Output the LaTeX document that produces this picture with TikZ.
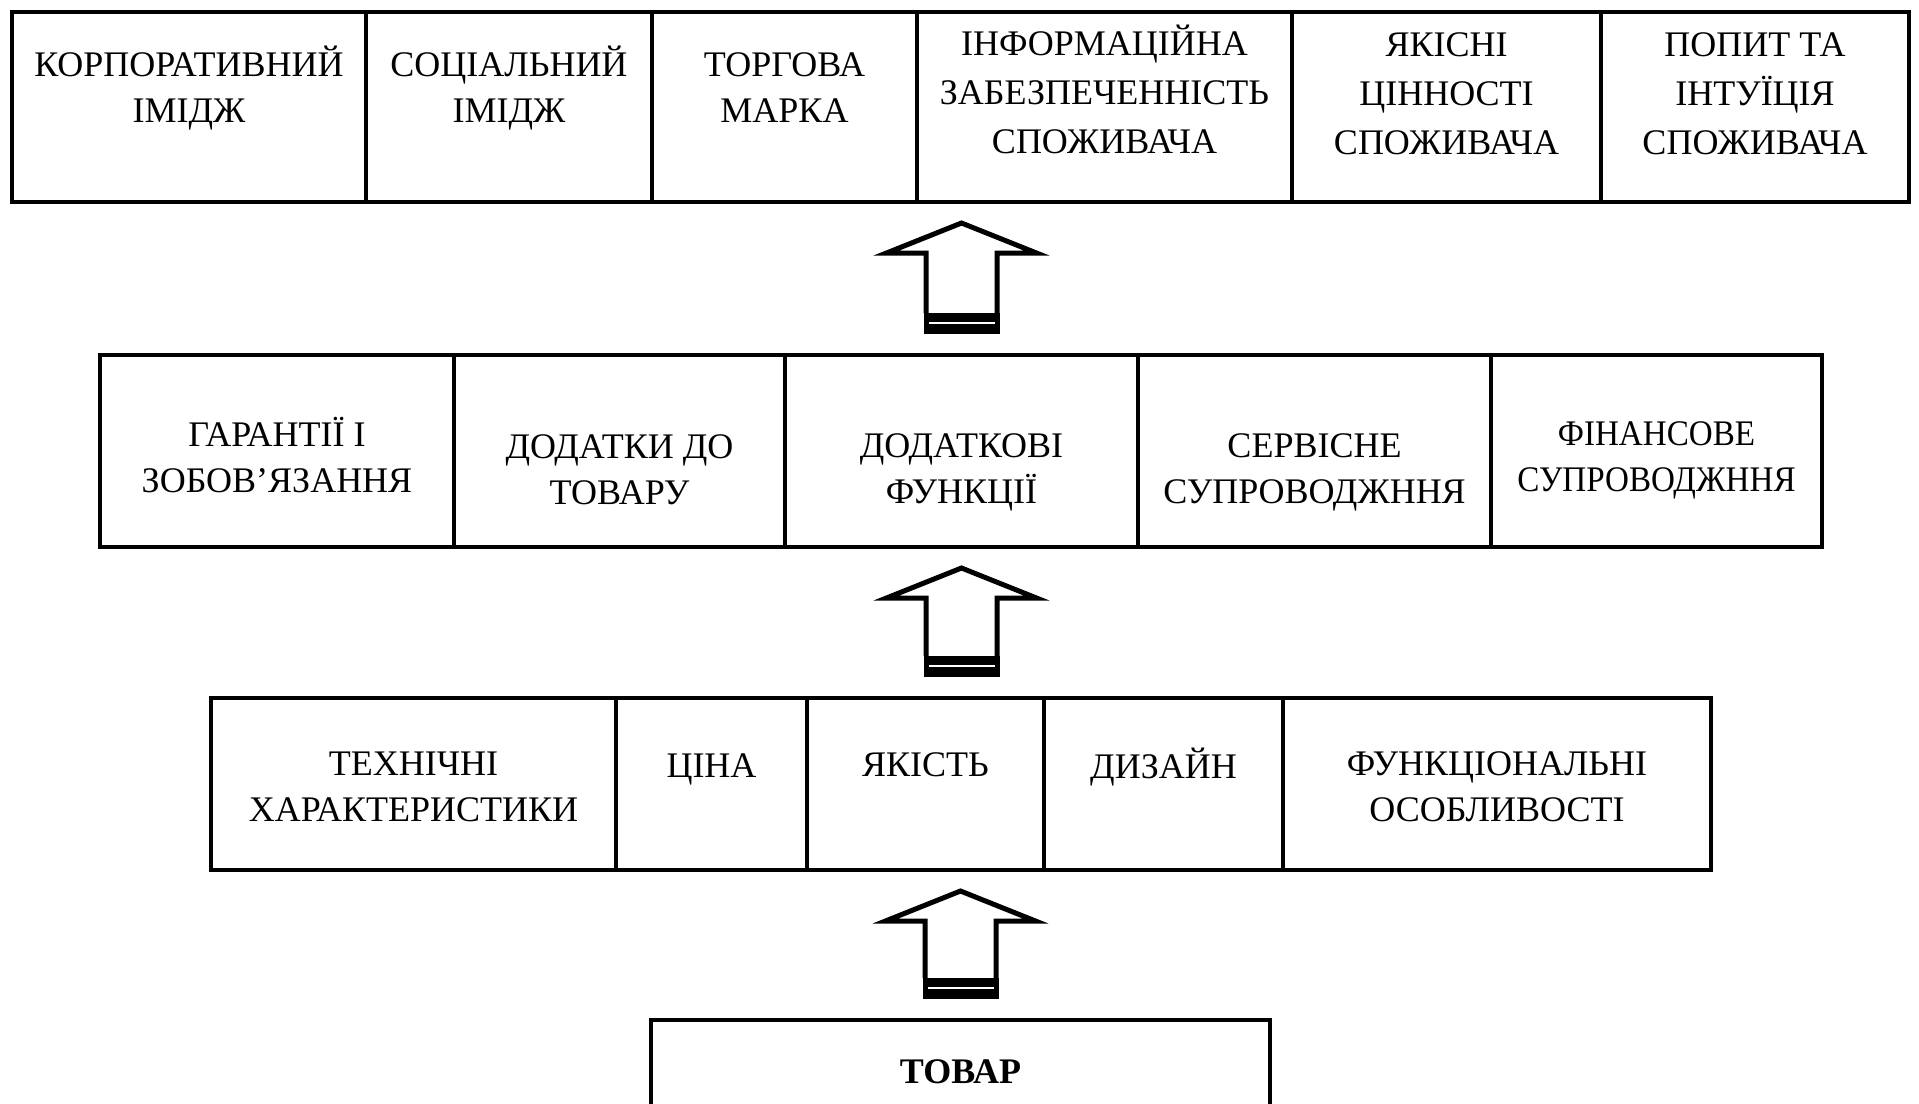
\documentclass[tikz,border=0pt]{standalone}
\usepackage{fontspec}
\setmainfont{Liberation Serif}
\usepackage{tikz}
\usetikzlibrary{calc}

% hollow block arrow between two rows: #1 column, #2 upper node, #3 lower node
\newcommand{\blockarr}[3]{%
  \path (#1 |- #2.south) ++(0,21) coordinate (tip);
  \path (#1 |- #3.north) ++(0,-21) coordinate (tail);
  \fill[black] ($(tail)+(-38,-21)$) rectangle ($(tail)+(38,0)$);
  \draw[white,line width=0.7pt] ($(tail)+(-33,-11)$) -- ($(tail)+(33,-11)$);
  \draw[arrline] ($(tail)+(-35.5,-21)$) -- ($(tip)+(-35.5,30)$) -- ($(tip)+(-75,30)$)
    -- (tip) -- ($(tip)+(75,30)$) -- ($(tip)+(35.5,30)$) -- ($(tail)+(35.5,-21)$);
}

\begin{document}
\begin{tikzpicture}[
  x=0.5pt, y=-0.5pt,
  every node/.style={font=\fontsize{18}{23}\selectfont,align=center},
  cell/.style={draw=black,line width=2.4pt,inner sep=0pt,outer sep=0pt},
  toprow/.style={cell,minimum height=95pt},
  midrow/.style={cell,minimum height=96pt},
  botrow/.style={cell,minimum height=86pt},
  txt/.style={inner sep=0pt},
  txtwide/.style={txt,font=\fontsize{18}{24.5}\selectfont},
  arrline/.style={line width=2.5pt,line join=miter}
]
\useasboundingbox (0,0) rectangle (1919,1104);

% top row
\node[toprow,minimum width=177pt] (t1) at (189,107) {};
\node[toprow,minimum width=143pt] (t2) at (509,107) {};
\node[toprow,minimum width=132.5pt] (t3) at (784.5,107) {};
\node[toprow,minimum width=187.5pt] (t4) at (1104.5,107) {};
\node[toprow,minimum width=154.5pt] (t5) at (1446.5,107) {};
\node[toprow,minimum width=154pt] (t6) at (1755,107) {};
\node[txt] (t1txt) at (189,88) {КОРПОРАТИВНИЙ\\ІМІДЖ};
\node[txt] (t2txt) at (509,88) {СОЦІАЛЬНИЙ\\ІМІДЖ};
\node[txt] (t3txt) at (784.5,88) {ТОРГОВА\\МАРКА};
\node[txtwide] (t4txt) at (1104.5,89.5) {ІНФОРМАЦІЙНА\\ЗАБЕЗПЕЧЕННІСТЬ\\СПОЖИВАЧА};
\node[txtwide] (t5txt) at (1446.5,94) {ЯКІСНІ\\ЦІННОСТІ\\СПОЖИВАЧА};
\node[txtwide] (t6txt) at (1755,94) {ПОПИТ ТА\\ІНТУЇЦІЯ\\СПОЖИВАЧА};

% middle row
\node[midrow,minimum width=177pt] (m1) at (277,451) {};
\node[midrow,minimum width=165.5pt] (m2) at (619.5,451) {};
\node[midrow,minimum width=176.5pt] (m3) at (961.5,451) {};
\node[midrow,minimum width=176.5pt] (m4) at (1314.5,451) {};
\node[midrow,minimum width=165.5pt] (m5) at (1656.5,451) {};
\node[txt] (m1txt) at (277,455) {ГАРАНТІЇ І\\ЗОБОВ’ЯЗАННЯ};
\node[txt] (m2txt) at (619.5,470) {ДОДАТКИ ДО\\ТОВАРУ};
\node[txt] (m3txt) at (961.5,472) {ДОДАТКОВІ\\ФУНКЦІЇ};
\node[txt] (m4txt) at (1314.5,472) {СЕРВІСНЕ\\СУПРОВОДЖННЯ};
\node[txt,xscale=0.92,transform shape] (m5txt) at (1656.5,460) {ФІНАНСОВЕ\\СУПРОВОДЖННЯ};

% bottom row
\node[botrow,minimum width=202.5pt] (b1) at (413.5,784) {};
\node[botrow,minimum width=95.5pt] (b2) at (711.5,784) {};
\node[botrow,minimum width=118.5pt] (b3) at (925.5,784) {};
\node[botrow,minimum width=119.5pt] (b4) at (1163.5,784) {};
\node[botrow,minimum width=214pt] (b5) at (1497,784) {};
\node[txt] (b1txt) at (413.5,787) {ТЕХНІЧНІ\\ХАРАКТЕРИСТИКИ};
\node[txt] (b2txt) at (711.5,769) {ЦІНА};
\node[txt] (b3txt) at (925.5,765) {ЯКІСТЬ};
\node[txt] (b4txt) at (1163.5,767) {ДИЗАЙН};
\node[txt] (b5txt) at (1497,787) {ФУНКЦІОНАЛЬНІ\\ОСОБЛИВОСТІ};

% product
\node[cell,minimum width=309.5pt,minimum height=52pt] (tovar) at (960.5,1072) {\textbf{ТОВАР}};

% arrows
\blockarr{m3}{t4}{m3}
\blockarr{m3}{m3}{b3}
\blockarr{tovar}{b3}{tovar}
\end{tikzpicture}
\end{document}
